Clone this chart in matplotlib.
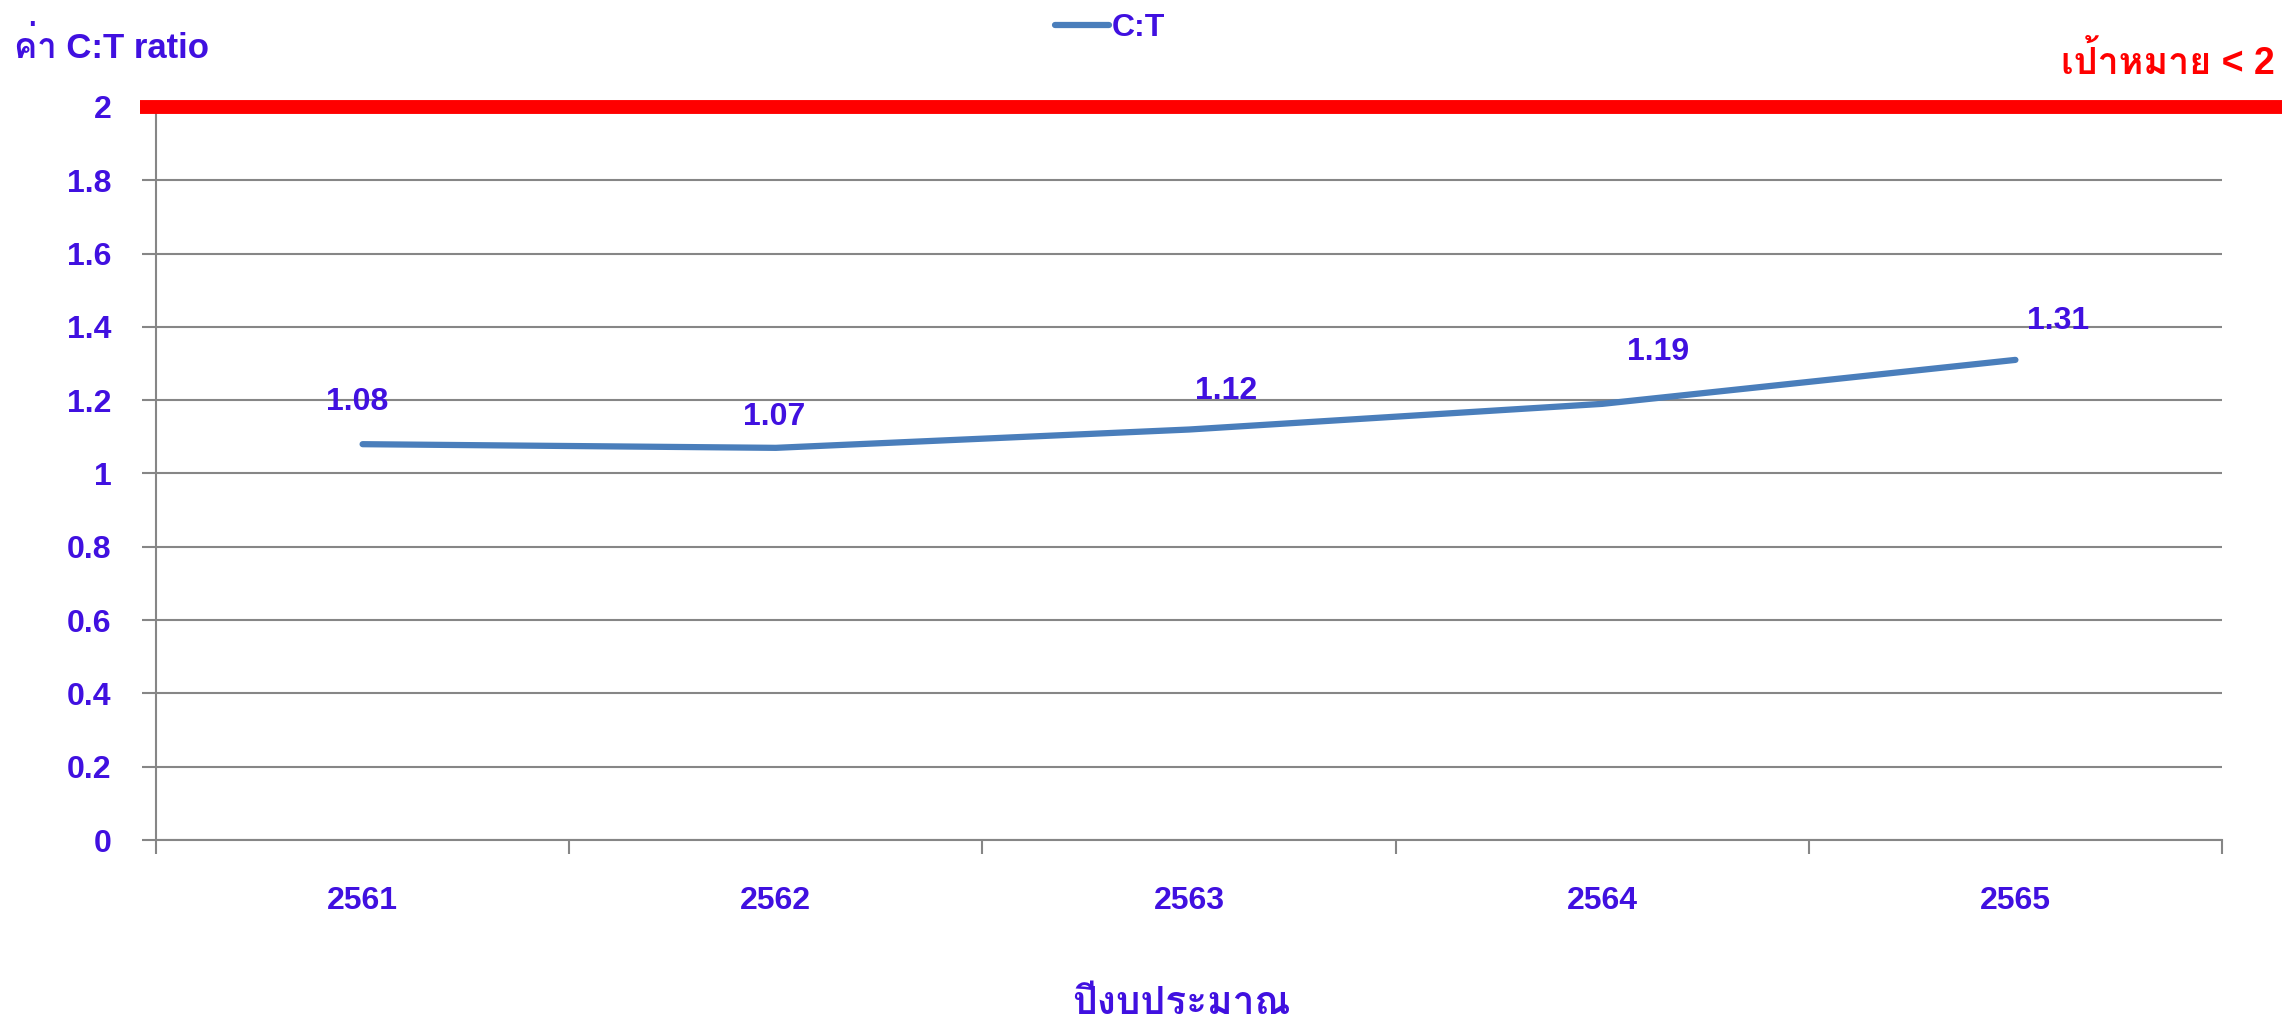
"""C:T ratio by fiscal year, with target line at 2."""

import matplotlib
matplotlib.use("Agg")
import matplotlib.pyplot as plt
import matplotlib.transforms as mtransforms
from matplotlib import font_manager
from matplotlib.ft2font import FT2Font

years = ["2561", "2562", "2563", "2564", "2565"]
ct_ratio = [1.08, 1.07, 1.12, 1.19, 1.31]
target = 2
y_ticks = [0, 0.2, 0.4, 0.6, 0.8, 1, 1.2, 1.4, 1.6, 1.8, 2]
y_tick_labels = ["0", "0.2", "0.4", "0.6", "0.8", "1", "1.2", "1.4", "1.6", "1.8", "2"]
# label offsets in pixels (dx, dy) from each point, as placed in the original
label_offsets = [(-5, 42), (-2, 31), (37, 39), (56, 52), (43, 39)]

TEXT = "#4010E0"
LINE = "#4A7EBB"
GRID = "#868686"
RED = "#FF0000"


def find_thai_font():
    names = []
    for f in font_manager.fontManager.ttflist:
        try:
            ft = FT2Font(f.fname)
            if ft.get_char_index(ord("ป")) and ft.get_char_index(ord("A")):
                names.append(f.name)
        except Exception:
            continue
    return names


thai = find_thai_font()
families = ["Liberation Sans"] + thai[:1] + ["DejaVu Sans"]
plt.rcParams["font.family"] = families
plt.rcParams["font.weight"] = "bold"

fig = plt.figure(figsize=(22.82, 10.22), dpi=100)
ax = fig.add_axes([156 / 2282, 1 - 840 / 1022, (2222 - 156) / 2282, (840 - 107) / 1022])

x = list(range(len(years)))
ax.plot(x, ct_ratio, color=LINE, lw=4.5, solid_capstyle="round", label="C:T", zorder=3)

for xi, v, (dx, dy) in zip(x, ct_ratio, label_offsets):
    ax.annotate(f"{v:.2f}", (xi, v), xytext=(dx * 0.72, dy * 0.72), textcoords="offset points",
                ha="center", va="center", color=TEXT, fontsize=23, fontweight="bold")

ax.set_xlim(-0.5, len(years) - 0.5)
ax.set_ylim(0, 2)
ax.set_yticks(y_ticks)
ax.set_yticklabels(y_tick_labels)
ax.set_xticks([i - 0.5 for i in range(len(years) + 1)])
ax.set_xticklabels([])
ax.set_xticks(x, minor=True)
ax.set_xticklabels(years, minor=True)
ax.tick_params(axis="x", which="major", length=10, width=1.5, color=GRID)
ax.tick_params(axis="x", which="minor", length=0, pad=33, labelsize=23, labelcolor=TEXT)
ax.tick_params(axis="y", length=10, width=1.5, color=GRID, pad=22, labelsize=23, labelcolor=TEXT)
for lbl in ax.get_xticklabels(minor=True) + ax.get_yticklabels():
    lbl.set_fontweight("bold")

ax.grid(axis="y", color=GRID, lw=1.5)
ax.set_axisbelow(True)
for s in ["top", "right"]:
    ax.spines[s].set_visible(False)
for s in ["left", "bottom"]:
    ax.spines[s].set_color(GRID)
    ax.spines[s].set_linewidth(1.5)

# target line runs past the axes to the right edge of the figure
trans = mtransforms.blended_transform_factory(fig.transFigure, ax.transData)
ax.plot([140 / 2282, 1.0], [target, target], color=RED, lw=10, transform=trans,
        clip_on=False, solid_capstyle="butt", zorder=4)

fig.text(2275 / 2282, 1 - 62 / 1022, f"เป้าหมาย < {target}", ha="right", va="center",
         color=RED, fontsize=27, fontweight="bold")
fig.text(14 / 2282, 1 - 47 / 1022, "ค่า C:T ratio", ha="left", va="center",
         color=TEXT, fontsize=25, fontweight="bold")
fig.text(1181 / 2282, 1 - 1004 / 1022, "ปีงบประมาณ", ha="center", va="center",
         color=TEXT, fontsize=28, fontweight="bold")

leg = fig.legend(loc="center", bbox_to_anchor=(1110 / 2282, 1 - 28 / 1022), frameon=False,
                 fontsize=23, handlelength=1.7, handletextpad=0.1, borderaxespad=0)
for t in leg.get_texts():
    t.set_color(TEXT)
    t.set_fontweight("bold")

fig.savefig("out.png", dpi=100)
plt.close(fig)
